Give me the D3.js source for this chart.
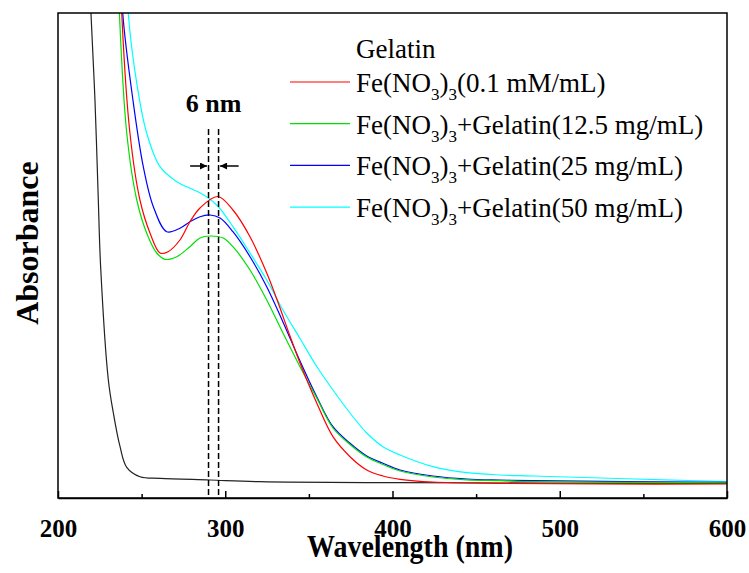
<!DOCTYPE html>
<html>
<head>
<meta charset="utf-8">
<script src="https://d3js.org/d3.v7.min.js"></script>
<style>
  body { margin: 0; background: #fff; }
  text { font-family: "Liberation Serif", "Times New Roman", serif; fill: #000; }
  .tick text { font-size: 25px; font-weight: bold; }
  .tick line { stroke: #000; stroke-width: 1.5; }
  .domain { stroke: #000; stroke-width: 1.5; }
</style>
</head>
<body>
<svg id="chart" width="749" height="573"></svg>
<script>
// x axis
const xTicks = [200, 300, 400, 500, 600];
const xMinorTicks = [250, 350, 450, 550];

// spectra (wavelength nm / absorbance a.u.)
const gelatinWl  = [218.5, 219.7, 222.1, 224.1, 225.5, 230.1, 233.1, 237.1, 241.1, 249.0, 261.0, 290.9, 320.8, 403.9, 600];
const gelatinAbs = [5.4, 4.85, 3.98, 2.98, 2.31, 1.18, 0.85, 0.513, 0.307, 0.213, 0.197, 0.18, 0.163, 0.153, 0.147];

const feWl  = [237.0, 238.1, 243.0, 249.0, 255.0, 261.0, 265.8, 272.9, 278.9, 284.9, 295.5, 304.6, 314.8, 324.8, 330.8, 338.7, 344.7, 354.7, 364.4, 374.6, 384.6, 394.3, 404.5, 424.2, 464.3, 524, 600];
const feAbs = [5.5, 4.85, 3.65, 2.98, 2.65, 2.45, 2.463, 2.58, 2.763, 2.90, 3.015, 2.88, 2.613, 2.25, 1.99, 1.62, 1.35, 0.95, 0.613, 0.413, 0.28, 0.22, 0.187, 0.16, 0.147, 0.14, 0.14];

const fe125Wl  = [235.6, 236.7, 241.1, 247.1, 253.0, 259.0, 264.0, 271.0, 278.9, 284.9, 290.9, 298.7, 304.6, 314.8, 324.8, 334.5, 344.7, 354.7, 364.4, 374.6, 384.6, 394.3, 404.5, 424.2, 444.4, 464.3, 484.3, 600];
const fe125Abs = [5.5, 4.85, 3.65, 2.98, 2.65, 2.45, 2.387, 2.413, 2.513, 2.60, 2.62, 2.60, 2.513, 2.28, 1.98, 1.65, 1.313, 1.00, 0.70, 0.535, 0.41, 0.335, 0.27, 0.21, 0.182, 0.173, 0.163, 0.152];

const fe25Wl  = [237.6, 238.7, 244.8, 251.0, 257.0, 265.0, 272.9, 278.9, 284.9, 290.9, 296.9, 304.6, 314.8, 324.8, 334.5, 344.7, 354.7, 364.4, 374.6, 384.6, 394.3, 404.5, 424.2, 444.4, 464.3, 484.3, 600];
const fe25Abs = [5.5, 4.85, 3.98, 3.313, 2.913, 2.663, 2.697, 2.763, 2.813, 2.83, 2.80, 2.663, 2.413, 2.113, 1.76, 1.37, 1.013, 0.713, 0.547, 0.42, 0.347, 0.28, 0.22, 0.19, 0.18, 0.173, 0.157];

const fe50Wl  = [240.8, 242.0, 247.1, 253.0, 261.0, 271.0, 278.9, 284.9, 294.9, 304.6, 314.8, 324.8, 334.5, 344.7, 354.7, 364.4, 374.6, 384.6, 394.3, 404.5, 424.2, 444.4, 464.3, 484.3, 600];
const fe50Abs = [5.5, 4.85, 4.147, 3.65, 3.313, 3.163, 3.097, 3.053, 2.93, 2.713, 2.45, 2.18, 1.88, 1.595, 1.315, 1.08, 0.85, 0.65, 0.513, 0.43, 0.313, 0.253, 0.23, 0.22, 0.163];

const seriesColors = ['#222222', '#ff0000', '#00e000', '#0000ff', '#00ffff'];
const legendTitle = 'Gelatin';
const legendSuffix = ['(0.1 mM/mL)', '+Gelatin(12.5 mg/mL)', '+Gelatin(25 mg/mL)', '+Gelatin(50 mg/mL)'];

// peak shift marker
const shiftWl = [290, 296];
const shiftLabel = '6 nm';

const margin = { left: 58, right: 22, top: 13, bottom: 75 };
const svg = d3.select('#chart');
const width = +svg.attr('width');
const height = +svg.attr('height');
const innerWidth = width - margin.left - margin.right;
const innerHeight = height - margin.top - margin.bottom;

const x = d3.scaleLinear().domain([200, 600]).range([0, innerWidth]);
const y = d3.scaleLinear().domain([0, 4.85]).range([innerHeight, 0]);

const g = svg.append('g').attr('transform', `translate(${margin.left},${margin.top})`);

g.append('clipPath').attr('id', 'plot-clip')
  .append('rect').attr('width', innerWidth).attr('height', innerHeight);

const zip = (wl, ab) => wl.map((w, i) => ({ w: w, a: ab[i] }));
const series = [
  zip(gelatinWl, gelatinAbs),
  zip(feWl, feAbs),
  zip(fe125Wl, fe125Abs),
  zip(fe25Wl, fe25Abs),
  zip(fe50Wl, fe50Abs)
];

const line = d3.line()
  .x(d => x(d.w))
  .y(d => y(d.a))
  .curve(d3.curveCatmullRom.alpha(0.5));

// black first, then cyan, blue, green, red on top
const drawOrder = [0, 4, 3, 2, 1];
g.append('g').attr('clip-path', 'url(#plot-clip)')
  .selectAll('path').data(drawOrder).enter().append('path')
    .attr('fill', 'none')
    .attr('stroke', i => seriesColors[i])
    .attr('stroke-width', 1.2)
    .attr('d', i => line(series[i]));

// dashed lines at the two peak positions
const dashTop = 3.69;
g.selectAll('.shift').data(shiftWl).enter().append('line')
  .attr('class', 'shift')
  .attr('x1', d => x(d)).attr('x2', d => x(d))
  .attr('y1', y(dashTop)).attr('y2', y(0))
  .attr('stroke', '#000').attr('stroke-width', 1.5)
  .attr('stroke-dasharray', '6,3');

svg.append('defs').append('marker')
  .attr('id', 'arrow').attr('viewBox', '0 0 10 10')
  .attr('refX', 10).attr('refY', 5)
  .attr('markerWidth', 8).attr('markerHeight', 7)
  .attr('markerUnits', 'userSpaceOnUse')
  .attr('orient', 'auto')
  .append('path').attr('d', 'M0,0L10,5L0,10Z').attr('fill', '#000');

const arrowA = 3.32;
const arrowLen = 11; // nm
g.append('line')
  .attr('x1', x(shiftWl[0] - arrowLen)).attr('x2', x(shiftWl[0]) - 1.5)
  .attr('y1', y(arrowA)).attr('y2', y(arrowA))
  .attr('stroke', '#000').attr('stroke-width', 1.5)
  .attr('marker-end', 'url(#arrow)');
g.append('line')
  .attr('x1', x(shiftWl[1] + arrowLen + 1)).attr('x2', x(shiftWl[1]) + 1.5)
  .attr('y1', y(arrowA)).attr('y2', y(arrowA))
  .attr('stroke', '#000').attr('stroke-width', 1.5)
  .attr('marker-end', 'url(#arrow)');

g.append('text')
  .attr('x', x((shiftWl[0] + shiftWl[1]) / 2))
  .attr('y', y(3.863))
  .attr('text-anchor', 'middle')
  .style('font-size', '26px').style('font-weight', 'bold')
  .text(shiftLabel);

// axes
const xAxisG = g.append('g').attr('transform', `translate(0,${innerHeight})`);
xAxisG.call(d3.axisBottom(x).tickValues(xTicks).tickSizeInner(-7).tickSizeOuter(0).tickPadding(21));
const minorG = g.append('g').attr('transform', `translate(0,${innerHeight})`);
minorG.call(d3.axisBottom(x).tickValues(xMinorTicks).tickSizeInner(-4).tickSizeOuter(0).tickFormat(''));
minorG.select('.domain').remove();

// frame
g.append('rect')
  .attr('width', innerWidth).attr('height', innerHeight)
  .attr('fill', 'none').attr('stroke', '#000').attr('stroke-width', 1.5);

// axis titles
svg.append('text')
  .attr('transform', `translate(410,${height - 16}) scale(1,1.15)`)
  .attr('text-anchor', 'middle')
  .style('font-size', '28px').style('font-weight', 'bold')
  .text('Wavelength (nm)');

svg.append('text')
  .attr('transform', 'translate(38,243) rotate(-90)')
  .attr('text-anchor', 'middle')
  .style('font-size', '32px').style('font-weight', 'bold')
  .text('Absorbance');

// legend
const legendX = 290;
const legendY0 = 82;
const legendStep = 41.7;
const legend = svg.append('g');
legend.append('text')
  .attr('x', legendX + 66).attr('y', legendY0 - 24)
  .style('font-size', '27px')
  .text(legendTitle);

const rows = legend.selectAll('.row').data(legendSuffix).enter().append('g')
  .attr('class', 'row')
  .attr('transform', (d, i) => `translate(${legendX},${legendY0 + i * legendStep})`);
rows.append('line')
  .attr('x1', 0).attr('x2', 60)
  .attr('stroke', (d, i) => seriesColors[i + 1]).attr('stroke-width', 1.2);
const lt = rows.append('text')
  .attr('x', 66).attr('y', 10)
  .style('font-size', '27px');
lt.append('tspan').text('Fe(NO');
lt.append('tspan').attr('dy', 8).style('font-size', '17px').text('3');
lt.append('tspan').attr('dy', -8).text(')');
lt.append('tspan').attr('dy', 8).style('font-size', '17px').text('3');
lt.append('tspan').attr('dy', -8).text(d => d);
</script>
</body>
</html>
